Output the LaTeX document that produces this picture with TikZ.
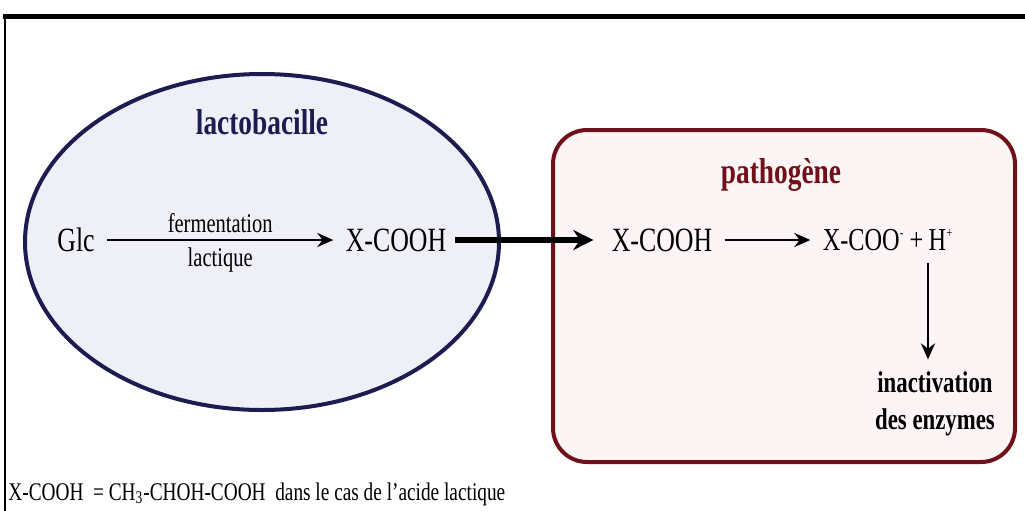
\documentclass[tikz,border=0pt]{standalone}
\usepackage{fontspec}
\setmainfont{Liberation Serif}[FakeStretch=0.76]
\usepackage{tikz}
\usetikzlibrary{arrows.meta,shapes.geometric}
\definecolor{navy}{HTML}{1C1C50}
\definecolor{cellbg}{HTML}{EFF0F7}
\definecolor{maroon}{HTML}{701018}
\definecolor{pathbg}{HTML}{FDF5F5}
\tikzset{
  frame/.style={draw=black, line cap=rect},
  cell/.style={ellipse, draw=navy, fill=cellbg, line width=2pt, inner sep=0pt},
  patho/.style={rectangle, draw=maroon, fill=pathbg, line width=2pt, rounded corners=17pt, inner sep=0pt},
  chem/.style={inner sep=1pt, font=\fontsize{17}{20}\selectfont},
  small/.style={inner sep=1pt, font=\fontsize{13.5}{16}\selectfont},
  title/.style={inner sep=1pt, font=\bfseries\fontsize{18}{21}\selectfont},
  res/.style={inner sep=1pt, align=center, font=\bfseries\fontsize{15}{18.5}\selectfont},
  rxn/.style={draw=black, line width=1.4pt, shorten <=5pt, shorten >=5pt, -{Stealth[length=8pt,width=7pt]}},
  pass/.style={draw=black, line width=3pt, shorten <=3pt, shorten >=8pt, -{Stealth[length=10pt,width=10pt]}}
}
\newcommand{\ionsup}[1]{\textsuperscript{\scriptsize #1}}

\begin{document}
\begin{tikzpicture}[x=0.5pt, y=-0.5pt]
  \useasboundingbox (0,0) rectangle (1025,510);
  % frame lines
  \draw[frame, line width=2.5pt] (5,16) -- (1025,16);
  \draw[frame, line width=0.8pt] (5,16) -- (5,510);

  % the two compartments
  \node[cell, minimum width=237pt, minimum height=168pt] (lacto) at (262,242) {};
  \node[patho, minimum width=231pt, minimum height=166pt] (path) at (784,296) {};
  \node[title, text=navy] (lactoname) at (262,122) {lactobacille};
  \node[title, text=maroon] (pathname) at (781,175) {pathogène};

  % inside the lactobacillus
  \node[chem] (glc) at (76,240) {Glc};
  \node[chem] (acid) at (396,240) {X-COOH};
  \draw[rxn] (glc) -- (acid)
    node[small, midway, above=2pt] (ferm) {fermentation}
    node[small, midway, below=2pt] (lact) {lactique};

  % inside the pathogen
  \node[chem] (acid2) at (662,240) {X-COOH};
  \node[chem, font=\fontsize{16}{19}\selectfont] (ions) at (888,240) {X-COO\ionsup{-}\,+\,H\ionsup{+}};
  \node[res] (inact) at (935,404) {inactivation\\des enzymes};
  \draw[rxn] (acid2) -- (ions);
  \draw[rxn] (ions.south -| 928,0) -- (inact.north -| 928,0);

  % acid crossing into the pathogen
  \draw[pass] (acid) -- (acid2);

  % footnote
  \node[anchor=west, inner sep=0pt, font=\fontsize{12.7}{14}\selectfont] (note) at (8,494)
    {X-COOH\ \ = CH\textsubscript{3}-CHOH-COOH\ \ dans le cas de l'acide lactique};
\end{tikzpicture}
\end{document}
